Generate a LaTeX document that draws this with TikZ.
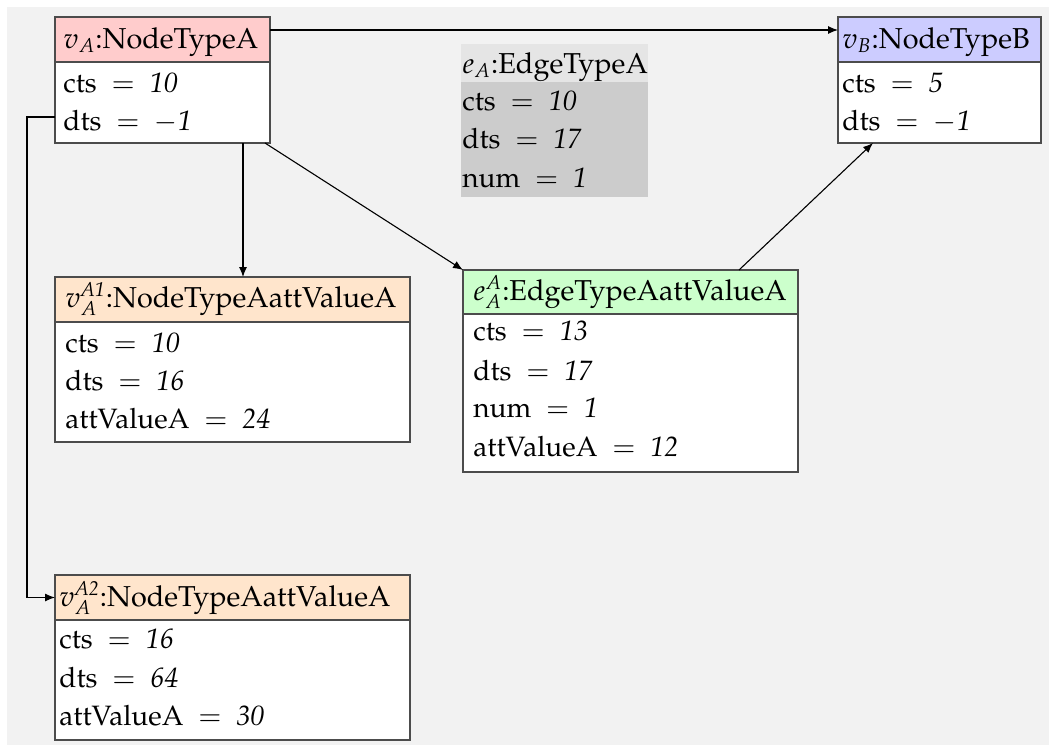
\documentclass[tikz,border=0pt]{standalone}
\usepackage[T1]{fontenc}
\usepackage{mathpazo}
\usetikzlibrary{arrows.meta,calc}
\newcommand\umlbox[7]{%
  \node[boxbody, minimum width={(#4-#2)*0.5pt}, minimum height={(#6-#3)*0.5pt}] (#1) at (#2,#3) {};
  \node[boxhead, fill=#7, minimum width={(#4-#2)*0.5pt}, minimum height={(#5-#3)*0.5pt}] (#1h) at (#2,#3) {};
}
\newcommand\eqs{~${}={}$~}
\begin{document}
\begin{tikzpicture}[x=0.5pt,y=-0.5pt,
  boxbody/.style={draw=black!70, line width=0.75pt, fill=white, inner sep=0pt, outer sep=0pt, anchor=north west},
  boxhead/.style={draw=black!70, line width=0.75pt, inner sep=0pt, outer sep=0pt, anchor=north west},
  txt/.style={anchor=base west, inner sep=0pt, font=\fontsize{14}{16}\selectfont},
  htxt/.style={anchor=base west, inner sep=0pt, font=\fontsize{14.4}{16}\selectfont},
  arr/.style={-{Latex[length=5pt,width=4pt]}, line width=0.55pt, black}]
\useasboundingbox (0,0) rectangle (1049,745);
\fill[black!5] (7,7) rectangle (1049,745);

% edge label box eA (no border)
\node[boxbody, draw=none, fill=black!20, minimum width={(648-461)*0.5pt}, minimum height={(197-44)*0.5pt}] (eA) at (461,44) {};
\node[boxhead, draw=none, fill=black!10, minimum width={(648-461)*0.5pt}, minimum height={(82-44)*0.5pt}] (eAh) at (461,44) {};
\node[htxt] (eAt) at (462,73) {$e_A$:EdgeTypeA};
\node[txt] (eA1) at (462,110) {cts\eqs\textit{10}};
\node[txt] (eA2) at (462,148) {dts\eqs\textit{17}};
\node[txt] (eA3) at (462,187) {num\eqs\textit{1}};

\umlbox{vA}{55}{17}{270}{62}{143}{red!20}
\node[htxt] (vAt) at (63,48) {$v_A$:NodeTypeA};
\node[txt] (vA1r) at (63,92) {cts\eqs\textit{10}};
\node[txt] (vA2r) at (63,130) {dts\eqs$-$\textit{1}};

\umlbox{vB}{838}{17}{1041}{62}{143}{blue!20}
\node[htxt] (vBt) at (842,48) {$v_B$:NodeTypeB};
\node[txt] (vB1r) at (842,92) {cts\eqs\textit{5}};
\node[txt] (vB2r) at (842,130) {dts\eqs$-$\textit{1}};

\umlbox{vAa}{55}{277}{410}{322}{442}{orange!20}
\node[htxt] (vAat) at (65,307) {$v_A^{\mathit{A1}}$:NodeTypeAattValueA};
\node[txt] (vAa1) at (65,352) {cts\eqs\textit{10}};
\node[txt] (vAa2) at (65,390) {dts\eqs\textit{16}};
\node[txt] (vAa3) at (65,428) {attValueA\eqs\textit{24}};

\umlbox{eAA}{463}{270}{798}{314}{472}{green!20}
\node[htxt] (eAAt) at (473,300) {$e_A^A$:EdgeTypeAattValueA};
\node[txt] (eAA1) at (473,340) {cts\eqs\textit{13}};
\node[txt] (eAA2) at (473,380) {dts\eqs\textit{17}};
\node[txt] (eAA3) at (473,417) {num\eqs\textit{1}};
\node[txt] (eAA4) at (473,456) {attValueA\eqs\textit{12}};

\umlbox{vAb}{55}{575}{410}{620}{740}{orange!20}
\node[htxt] (vAbt) at (59,606) {$v_A^{\mathit{A2}}$:NodeTypeAattValueA};
\node[txt] (vAb1) at (59,648) {cts\eqs\textit{16}};
\node[txt] (vAb2) at (59,687) {dts\eqs\textit{64}};
\node[txt] (vAb3) at (59,725) {attValueA\eqs\textit{30}};

% connectors
\draw[arr] ([yshift=4.75pt]vAh.east) -- ([yshift=4.75pt]vBh.west);
\draw[arr] ([xshift=40.25pt]vA.south) -- ([xshift=40.25pt]vA.south |- vAah.north);
\draw[arr] ([xshift=-2.5pt]vA.south east) -- (eAAh.north west);
\draw[arr] ([xshift=54.25pt]eAAh.north) -- ([xshift=-33.25pt]vB.south);
\draw[arr] ([yshift=-18.5pt]vA.west) -- ++(-14pt,0) |- (vAbh.west);
\end{tikzpicture}
\end{document}
